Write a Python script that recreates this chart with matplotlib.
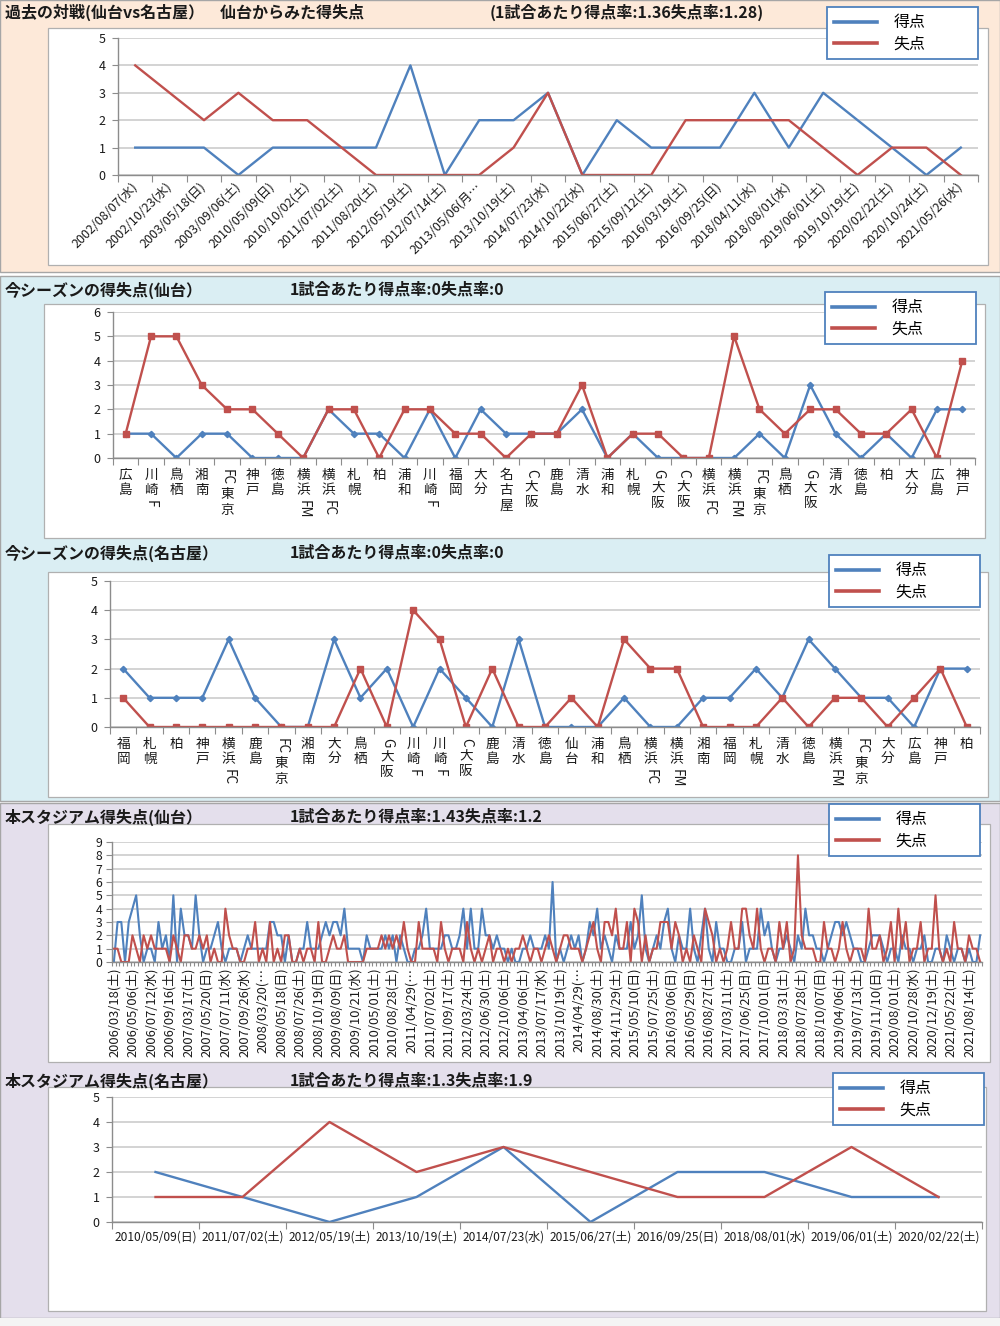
import matplotlib
matplotlib.use('Agg')
import matplotlib.pyplot as plt
from matplotlib.patches import Rectangle
from matplotlib.lines import Line2D
from matplotlib.textpath import TextToPath
from matplotlib.font_manager import FontProperties
import numpy as np

plt.rcParams['font.family'] = ['Noto Sans CJK JP', 'DejaVu Sans']

# ---------------- data ----------------
p1_labels = ['2002/08/07(水)', '2002/10/23(水)', '2003/05/18(日)', '2003/09/06(土)', '2010/05/09(日)',
             '2010/10/02(土)', '2011/07/02(土)', '2011/08/20(土)', '2012/05/19(土)', '2012/07/14(土)',
             '2013/05/06(月…', '2013/10/19(土)', '2014/07/23(水)', '2014/10/22(水)', '2015/06/27(土)',
             '2015/09/12(土)', '2016/03/19(土)', '2016/09/25(日)', '2018/04/11(水)', '2018/08/01(水)',
             '2019/06/01(土)', '2019/10/19(土)', '2020/02/22(土)', '2020/10/24(土)', '2021/05/26(水)']
p1_for = [1, 1, 1, 0, 1, 1, 1, 1, 4, 0, 2, 2, 3, 0, 2, 1, 1, 1, 3, 1, 3, 2, 1, 0, 1]
p1_against = [4, 3, 2, 3, 2, 2, 1, 0, 0, 0, 0, 1, 3, 0, 0, 0, 2, 2, 2, 2, 1, 0, 1, 1, 0]

p2_labels = ['広島', '川崎F', '鳥栖', '湘南', 'FC東京', '神戸', '徳島', '横浜FM', '横浜FC', '札幌',
             '柏', '浦和', '川崎F', '福岡', '大分', '名古屋', 'C大阪', '鹿島', '清水', '浦和',
             '札幌', 'G大阪', 'C大阪', '横浜FC', '横浜FM', 'FC東京', '鳥栖', 'G大阪', '清水', '徳島',
             '柏', '大分', '広島', '神戸']
p2_for = [1, 1, 0, 1, 1, 0, 0, 0, 2, 1, 1, 0, 2, 0, 2, 1, 1, 1, 2, 0,
          1, 0, 0, 0, 0, 1, 0, 3, 1, 0, 1, 0, 2, 2]
p2_against = [1, 5, 5, 3, 2, 2, 1, 0, 2, 2, 0, 2, 2, 1, 1, 0, 1, 1, 3, 0,
              1, 1, 0, 0, 5, 2, 1, 2, 2, 1, 1, 2, 0, 4]

p3_labels = ['福岡', '札幌', '柏', '神戸', '横浜FC', '鹿島', 'FC東京', '湘南', '大分', '鳥栖',
             'G大阪', '川崎F', '川崎F', 'C大阪', '鹿島', '清水', '徳島', '仙台', '浦和', '鳥栖',
             '横浜FC', '横浜FM', '湘南', '福岡', '札幌', '清水', '徳島', '横浜FM', 'FC東京', '大分',
             '広島', '神戸', '柏']
p3_for = [2, 1, 1, 1, 3, 1, 0, 0, 3, 1, 2, 0, 2, 1, 0, 3, 0, 0, 0, 1,
          0, 0, 1, 1, 2, 1, 3, 2, 1, 1, 0, 2, 2]
p3_against = [1, 0, 0, 0, 0, 0, 0, 0, 0, 2, 0, 4, 3, 0, 2, 0, 0, 1, 0, 3,
              2, 2, 0, 0, 0, 1, 0, 1, 1, 0, 1, 2, 0]

p4_labels = ['2006/03/18(土)', '2006/05/06(土)', '2006/07/12(水)', '2006/09/16(土)', '2007/03/17(土)',
             '2007/05/20(日)', '2007/07/11(水)', '2007/09/26(水)', '2008/03/20(…', '2008/05/18(日)',
             '2008/07/26(土)', '2008/10/19(日)', '2009/08/09(日)', '2009/10/21(水)', '2010/05/01(土)',
             '2010/08/28(土)', '2011/04/29(…', '2011/07/02(土)', '2011/09/17(土)', '2012/03/24(土)',
             '2012/06/30(土)', '2012/10/06(土)', '2013/04/06(土)', '2013/07/17(水)', '2013/10/19(土)',
             '2014/04/29(…', '2014/08/30(土)', '2014/11/29(土)', '2015/05/10(日)', '2015/07/25(土)',
             '2016/03/06(日)', '2016/05/29(日)', '2016/08/27(土)', '2017/03/11(土)', '2017/06/25(日)',
             '2017/10/01(日)', '2018/03/31(土)', '2018/07/28(土)', '2018/10/07(日)', '2019/04/06(土)',
             '2019/07/13(土)', '2019/11/10(日)', '2020/08/01(土)', '2020/10/28(水)', '2020/12/19(土)',
             '2021/05/22(土)', '2021/08/14(土)']
p4_for = [0, 3, 3, 0, 3, 4, 5, 2, 0, 1,
          1, 0, 3, 1, 2, 0, 5, 0, 4, 2,
          2, 1, 5, 2, 0, 1, 1, 2, 3, 1,
          0, 1, 1, 1, 0, 1, 2, 1, 1, 1,
          1, 1, 3, 3, 2, 2, 0, 2, 0, 0,
          1, 1, 3, 1, 1, 1, 2, 3, 2, 3,
          3, 2, 4, 1, 1, 1, 1, 0, 2, 1,
          1, 1, 1, 2, 1, 2, 0, 2, 1, 0,
          0, 1, 1, 2, 4, 1, 1, 1, 1, 2,
          2, 1, 1, 2, 4, 1, 4, 1, 1, 4,
          2, 2, 1, 2, 1, 1, 0, 1, 0, 0,
          1, 1, 2, 1, 1, 1, 2, 1, 6, 0,
          1, 0, 1, 2, 1, 2, 0, 1, 3, 2,
          4, 1, 2, 1, 0, 2, 1, 1, 1, 3,
          1, 2, 5, 1, 0, 1, 2, 1, 3, 4,
          1, 0, 2, 1, 1, 4, 1, 0, 2, 4,
          1, 0, 3, 1, 1, 0, 0, 1, 1, 3,
          0, 1, 1, 1, 4, 2, 3, 1, 0, 1,
          1, 2, 1, 0, 2, 1, 4, 2, 2, 1,
          1, 0, 1, 2, 3, 3, 2, 3, 2, 1,
          1, 0, 0, 1, 2, 2, 2, 1, 0, 1,
          1, 0, 2, 1, 1, 0, 1, 1, 2, 0,
          0, 1, 1, 0, 2, 1, 0, 1, 1, 0,
          1, 0, 0, 2]
p4_against = [1, 1, 0, 0, 0, 2, 1, 0, 2, 1,
              2, 1, 1, 1, 1, 0, 2, 1, 0, 2,
              2, 1, 1, 2, 1, 2, 0, 1, 0, 0,
              4, 2, 1, 1, 0, 0, 1, 1, 3, 0,
              1, 0, 3, 0, 1, 0, 2, 2, 0, 0,
              1, 0, 1, 1, 0, 3, 0, 0, 1, 2,
              1, 1, 2, 0, 0, 0, 0, 0, 1, 1,
              1, 1, 2, 1, 2, 1, 2, 1, 3, 1,
              0, 0, 3, 1, 1, 1, 1, 0, 3, 1,
              0, 1, 1, 1, 0, 3, 1, 0, 1, 0,
              1, 2, 0, 1, 1, 0, 1, 0, 1, 1,
              2, 1, 0, 1, 1, 0, 1, 2, 1, 0,
              1, 2, 2, 1, 1, 1, 0, 1, 2, 3,
              1, 0, 3, 3, 2, 4, 1, 1, 3, 0,
              4, 3, 0, 2, 0, 1, 1, 3, 3, 3,
              1, 3, 2, 0, 1, 0, 2, 1, 0, 4,
              3, 2, 0, 1, 0, 1, 3, 1, 1, 4,
              4, 2, 1, 4, 1, 0, 1, 1, 0, 3,
              1, 3, 0, 1, 8, 2, 1, 1, 1, 0,
              0, 3, 1, 1, 0, 1, 3, 1, 0, 1,
              1, 1, 0, 4, 1, 1, 2, 0, 1, 3,
              0, 4, 1, 3, 0, 1, 1, 3, 0, 1,
              1, 5, 1, 0, 1, 0, 3, 1, 1, 0,
              2, 1, 1, 0]

p5_labels = ['2010/05/09(日)', '2011/07/02(土)', '2012/05/19(土)', '2013/10/19(土)', '2014/07/23(水)',
             '2015/06/27(土)', '2016/09/25(日)', '2018/08/01(水)', '2019/06/01(土)', '2020/02/22(土)']
p5_for = [2, 1, 0, 1, 3, 0, 2, 2, 1, 1]
p5_against = [1, 1, 4, 2, 3, 2, 1, 1, 3, 1]

titles = [('過去の対戦(仙台vs名古屋）　仙台からみた得失点', '(1試合あたり得点率:1.36失点率:1.28)'),
          ('今シーズンの得失点(仙台）', '1試合あたり得点率:0失点率:0'),
          ('今シーズンの得失点(名古屋）', '1試合あたり得点率:0失点率:0'),
          ('本スタジアム得失点(仙台）', '1試合あたり得点率:1.43失点率:1.2'),
          ('本スタジアム得失点(名古屋）', '1試合あたり得点率:1.3失点率:1.9')]
legend_labels = ['得点', '失点']

# ---------------- layout helpers ----------------
W, H = 1000, 1326
fig = plt.figure(figsize=(W / 100, H / 100), dpi=100)
BLUE = '#4F81BD'
RED = '#C0504D'
GRID = '#C8C8C8'
AXC = '#8C8C8C'
TXT = '#1A1A1A'


def fx(x):
    return x / W


def fy(y):
    return 1 - y / H


def rect(x0, y0, x1, y1, fc, ec='#A6A6A6', lw=1.0, z=-10):
    fig.add_artist(Rectangle((fx(x0), fy(y1)), (x1 - x0) / W, (y1 - y0) / H,
                             transform=fig.transFigure, facecolor=fc, edgecolor=ec,
                             linewidth=lw, zorder=z))


def add_ax(x0, y0, x1, y1):
    ax = fig.add_axes([fx(x0), fy(y1), (x1 - x0) / W, (y1 - y0) / H])
    ax.patch.set_visible(False)
    ax.set_zorder(1)
    return ax


def style(ax, n, ymax, ylabsize=9):
    ax.set_xlim(-0.5, n - 0.5)
    ax.set_ylim(0, ymax)
    ax.set_yticks(range(0, ymax + 1))
    ax.yaxis.grid(True, color=GRID, lw=1.1)
    ax.set_axisbelow(True)
    for s in ['top', 'right']:
        ax.spines[s].set_visible(False)
    for s in ['left', 'bottom']:
        ax.spines[s].set_color(AXC)
        ax.spines[s].set_linewidth(1.0)
    ax.tick_params(axis='y', length=4, color=AXC, labelsize=ylabsize, pad=5, labelcolor=TXT)
    ax.set_xticks(np.arange(-0.5, n, 1))
    ax.set_xticklabels([])
    ax.tick_params(axis='x', which='major', length=5, color=AXC)
    ax.tick_params(axis='x', which='minor', length=0, labelcolor=TXT)


def legend(x0, y0, x1, y1):
    handles = [Line2D([], [], color=BLUE, lw=2.6), Line2D([], [], color=RED, lw=2.6)]
    lg = fig.legend(handles, legend_labels, loc='upper left',
                    bbox_to_anchor=(fx(x0), fy(y1), (x1 - x0) / W, (y1 - y0) / H),
                    mode='expand', borderaxespad=0,
                    prop=FontProperties(family=['Noto Sans CJK JP', 'DejaVu Sans'], size=11.5),
                    handlelength=2.7, handletextpad=1.0, borderpad=0.45, labelspacing=0.25,
                    fancybox=False, framealpha=1, edgecolor=BLUE)
    lg.get_frame().set_linewidth(1.3)
    lg.set_zorder(5)


def title(y, t1, t2, x2=290):
    fig.text(fx(5), fy(y), t1, fontsize=11.5, fontweight='bold', va='center', ha='left', color=TXT)
    fig.text(fx(x2), fy(y), t2, fontsize=11.5, fontweight='bold', va='center', ha='left', color=TXT)


_t2p = TextToPath()


def vlabels(ax, labels, fs=9.8, start=7.0, pitch=11.0):
    prop = FontProperties(family=['Noto Sans CJK JP'], size=fs)
    for i, lab in enumerate(labels):
        runs = []
        for c in lab:
            lat = ord(c) < 0x2000
            if lat and runs and runs[-1][0]:
                runs[-1][1] += c
            else:
                runs.append([lat, c])
        off = start
        for lat, s in runs:
            if lat:
                w, h, d = _t2p.get_text_width_height_descent(s, prop, ismath=False)
                ax.annotate(s, xy=(i, 0), xycoords=('data', 'axes fraction'), xytext=(0, -off - 1),
                            textcoords='offset points', rotation=270, ha='center', va='top',
                            fontsize=fs, annotation_clip=False, color=TXT)
                off += w + 2.5
            else:
                ax.annotate(s, xy=(i, 0), xycoords=('data', 'axes fraction'), xytext=(0, -off),
                            textcoords='offset points', rotation=0, ha='center', va='top',
                            fontsize=fs, annotation_clip=False, color=TXT)
                off += pitch


# ---------------- backgrounds ----------------
rect(0, 0, 1000, 272, '#FDE9D9')
rect(0, 276, 1000, 801, '#DAEEF3')
rect(0, 803, 1000, 1318, '#E4DFEC')
rect(0, 1318, 1000, 1326, '#F4F4F4', ec='none')
for (a, b, c, d) in [(48, 28, 988, 265), (44, 304, 985, 538), (48, 572, 988, 797),
                     (48, 824, 990, 1062), (48, 1087, 986, 1311)]:
    rect(a, b, c, d, 'white', ec='#B0B0B0', lw=0.9, z=-5)

# ---------------- panel 1 ----------------
title(12, titles[0][0], titles[0][1], x2=490)
ax = add_ax(118, 38, 978, 175)
n = len(p1_labels)
style(ax, n, 5)
x = np.arange(n)
ax.plot(x, p1_for, color=BLUE, lw=1.7)
ax.plot(x, p1_against, color=RED, lw=1.7)
ax.set_xticks(x, minor=True)
ax.set_xticklabels(p1_labels, minor=True, rotation=45, ha='right', va='center',
                   rotation_mode='anchor', fontsize=9.0)
ax.tick_params(axis='x', which='minor', pad=7)
legend(827, 7, 978, 57)

# ---------------- panel 2 ----------------
title(290, titles[1][0], titles[1][1])
ax = add_ax(113, 312, 975, 458)
n = len(p2_labels)
style(ax, n, 6)
x = np.arange(n)
ax.plot(x, p2_for, color=BLUE, lw=1.7, marker='D', ms=3.2)
ax.plot(x, p2_against, color=RED, lw=1.7, marker='s', ms=5)
vlabels(ax, p2_labels)
legend(825, 292, 976, 342)

# ---------------- panel 3 ----------------
title(553, titles[2][0], titles[2][1])
ax = add_ax(110, 581, 980, 727)
n = len(p3_labels)
style(ax, n, 5)
x = np.arange(n)
ax.plot(x, p3_for, color=BLUE, lw=1.7, marker='D', ms=3.2)
ax.plot(x, p3_against, color=RED, lw=1.7, marker='s', ms=5)
vlabels(ax, p3_labels)
legend(829, 555, 980, 606)

# ---------------- panel 4 ----------------
title(817, titles[3][0], titles[3][1])
ax = add_ax(112, 842, 982, 962)
n = len(p4_for)
style(ax, n, 9, ylabsize=8.8)
ax.tick_params(axis='y', pad=3)
ax.tick_params(axis='x', which='major', length=3)
x = np.arange(n)
ax.plot(x, p4_for, color=BLUE, lw=1.5)
ax.plot(x, p4_against, color=RED, lw=1.5)
lab_pos = np.arange(0, n, 5)[:len(p4_labels)]
ax.set_xticks(lab_pos, minor=True)
ax.set_xticklabels(p4_labels, minor=True, rotation=90, ha='center', va='top', fontsize=9.3)
ax.tick_params(axis='x', which='minor', pad=4)
legend(829, 804, 980, 856)

# ---------------- panel 5 ----------------
title(1081, titles[4][0], titles[4][1])
ax = add_ax(112, 1097, 982, 1222)
n = len(p5_labels)
style(ax, n, 5)
x = np.arange(n)
ax.plot(x, p5_for, color=BLUE, lw=1.7)
ax.plot(x, p5_against, color=RED, lw=1.7)
ax.set_xticks(x, minor=True)
ax.set_xticklabels(p5_labels, minor=True, fontsize=8.6)
ax.tick_params(axis='x', which='minor', pad=6)
legend(833, 1073, 984, 1125)

fig.savefig('out.png', dpi=100)
